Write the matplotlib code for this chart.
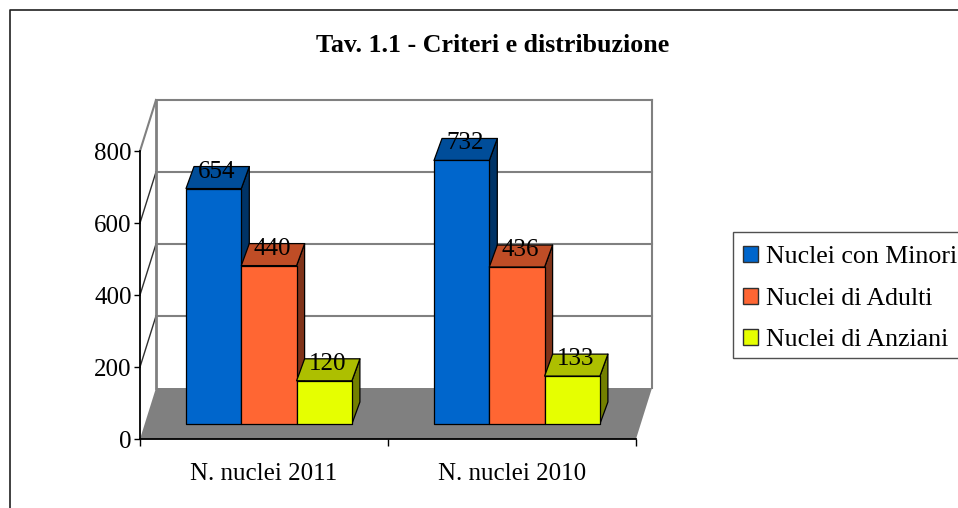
# -*- coding: utf-8 -*-
"""Tav. 1.1 - colonne in finto 3D, stile grafico da foglio di calcolo."""
import matplotlib
matplotlib.use("Agg")
import matplotlib.pyplot as plt
from matplotlib.lines import Line2D
from matplotlib.patches import Patch, Polygon, Rectangle

plt.rcParams["font.family"] = ["Liberation Serif", "DejaVu Serif"]

W, H = 958, 508

categorie = ["N. nuclei 2011", "N. nuclei 2010"]
serie = ["Nuclei con Minori", "Nuclei di Adulti", "Nuclei di Anziani"]
minori = [654, 732]
adulti = [440, 436]
anziani = [120, 133]
valori = [minori, adulti, anziani]
tick_y = [0, 200, 400, 600, 800]

col_fronte = ["#0066CC", "#FF6633", "#E6FF00"]
col_sopra = ["#004D99", "#BF4D26", "#ADBF00"]
col_lato = ["#003366", "#803319", "#738000"]
GRIGIO = "#808080"

fig = plt.figure(figsize=(W / 100, H / 100), dpi=100, facecolor="white")
# assi = faccia frontale del grafico: x 140..636 px, y 151..439 px
ax = fig.add_axes([140 / W, 1 - 439 / H, 496 / W, 288 / H])
ax.set_xlim(0, 2)
ax.set_ylim(0, 800)
ax.patch.set_visible(False)

PX = 2 / 496      # unita' x per pixel
PY = 800 / 288    # unita' y per pixel
PROF_X, PROF_Y = 16 * PX, 51 * PY   # profondita' del pavimento


def poli(punti, **kw):
    ax.add_patch(Polygon(punti, closed=True, clip_on=False, **kw))


# pavimento e pareti
poli([(0, 0), (2, 0), (2 + PROF_X, PROF_Y), (PROF_X, PROF_Y)], fc=GRIGIO, ec="none", zorder=1)
for v in tick_y[1:]:
    ax.plot([PROF_X, 2 + PROF_X], [v + PROF_Y] * 2, color=GRIGIO, lw=1.5, clip_on=False, zorder=1)
    c = GRIGIO if v == 800 else "#303030"
    ax.plot([0, PROF_X], [v, v + PROF_Y], color=c, lw=1.0 if v < 800 else 1.5, clip_on=False, zorder=1)
ax.plot([PROF_X] * 2, [PROF_Y, 800 + PROF_Y], color=GRIGIO, lw=2, clip_on=False, zorder=1)
ax.plot([2 + PROF_X] * 2, [PROF_Y, 800 + PROF_Y], color=GRIGIO, lw=1.5, clip_on=False, zorder=1)

# colonne
LARG = 55.3 * PX
INIZIO = 46 * PX
BASE = 15 * PY            # base del fronte sopra lo zero dell'asse
DX, DY = 8 * PX, 22 * PY  # profondita' colonna
z = 3
for c in range(len(categorie)):
    for s in range(len(serie)):
        x0 = c + INIZIO + s * LARG
        x1 = x0 + LARG
        top = BASE + valori[s][c]
        kw = dict(ec="black", lw=0.9, joinstyle="round")
        poli([(x1, BASE), (x1 + DX, BASE + DY), (x1 + DX, top + DY), (x1, top)], fc=col_lato[s], zorder=z, **kw)
        poli([(x0, top), (x1, top), (x1 + DX, top + DY), (x0 + DX, top + DY)], fc=col_sopra[s], zorder=z, **kw)
        ax.add_patch(Rectangle((x0, BASE), LARG, valori[s][c], fc=col_fronte[s], clip_on=False, zorder=z, **kw))
        z += 1

# etichette dei valori, sopra a tutto
for c in range(len(categorie)):
    for s in range(len(serie)):
        x = c + INIZIO + (s + 0.5) * LARG + 3 * PX
        ax.text(x, BASE + valori[s][c] + 17 * PY, str(valori[s][c]), ha="center", va="center",
                fontsize=18, color="black", zorder=20)

# assi
for nome in ("top", "right"):
    ax.spines[nome].set_visible(False)
for nome in ("left", "bottom"):
    ax.spines[nome].set_linewidth(1.3)
    ax.spines[nome].set_zorder(2)
ax.set_yticks(tick_y)
ax.tick_params(axis="y", labelsize=18, length=4, width=1, pad=2)
ax.set_xticks([0, 1, 2])
ax.set_xticklabels([])
ax.tick_params(axis="x", length=5, width=1)
ax.set_xticks([0.5, 1.5], minor=True)
ax.set_xticklabels(categorie, minor=True)
ax.tick_params(axis="x", which="minor", length=0, labelsize=18, pad=17)

fig.text(492.5 / W, 1 - 45 / H, "Tav. 1.1 - Criteri e distribuzione", ha="center", va="center",
         fontsize=18.6, fontweight="bold")

# riquadro della legenda: esce dal bordo destro come nell'originale
fig.add_artist(Rectangle((733 / W, 1 - 358 / H), 240 / W, 126 / H, transform=fig.transFigure,
                         fc="white", ec="#505050", lw=1))
maniglie = [Patch(fc=col_fronte[i], ec="#303030", lw=1) for i in range(3)]
leg = fig.legend(maniglie, serie, loc="upper left", bbox_to_anchor=(733 / W, 1 - 236 / H),
                 bbox_transform=fig.transFigure, fontsize=18.6, frameon=False,
                 borderaxespad=0, borderpad=0.39,
                 labelspacing=0.75, handlelength=0.58, handleheight=0.58, handletextpad=0.31)

# cornice esterna: solo sopra e a sinistra, il resto e' tagliato
fig.add_artist(Line2D([10 / W, 10 / W, 1], [0, 1 - 10 / H, 1 - 10 / H], color="#202020", lw=1.2))

fig.savefig("out.png", dpi=100)
